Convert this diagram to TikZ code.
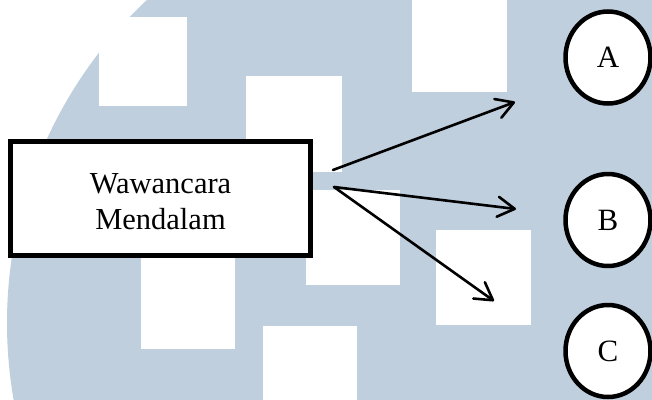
\documentclass[tikz,border=0pt]{standalone}
\usepackage{fontspec}
\setmainfont{Liberation Serif}
\usetikzlibrary{arrows.meta,shapes.geometric}
\definecolor{wmblue}{RGB}{191,207,221}
\tikzset{
  wmrect/.style={fill=white},
  mainbox/.style={draw=black, line width=5pt, fill=white, rectangle,
    minimum width=300pt, minimum height=114pt, inner sep=0pt},
  boxtext/.style={align=center, inner sep=0pt, font=\fontsize{30.5}{36}\selectfont},
  letter/.style={draw=black, line width=4.5pt, fill=white, ellipse,
    minimum width=85pt, minimum height=92pt, inner sep=0pt,
    font=\fontsize{31}{32}\selectfont},
  arr/.style={line width=2.6pt, line cap=round,
    -{Straight Barb[length=17pt,width=20pt,round]}}
}
\begin{document}
\begin{tikzpicture}[x=1pt,y=-1pt]
  \useasboundingbox (0,0) rectangle (652,399);
  \begin{scope}
    \clip (0,0) rectangle (652,399);
    \fill[white] (0,0) rectangle (652,399);
    \fill[wmblue] (450,323) circle (443pt);
    \fill[wmrect] (99,17) rectangle (187,106);
    \fill[wmrect] (246,76) rectangle (342,172);
    \fill[wmrect] (306,190) rectangle (400,285);
    \fill[wmrect] (141,254) rectangle (235,349);
    \fill[wmrect] (263,326) rectangle (357,420);
    \fill[wmrect] (412,-5) rectangle (507,92);
    \fill[wmrect] (436,230) rectangle (531,325);

    \node[mainbox] (wm) at (160.5,198.5) {};
    \node[boxtext] (wmtext) at ([yshift=-3.5pt]wm.center) {Wawancara\\Mendalam};
    \node[letter] (A) at (608,57.5) {A};
    \node[letter] (B) at (608,220) {B};
    \node[letter] (C) at (608,351) {C};

    \coordinate (s1) at (333,170);
    \coordinate (s2) at (334,187);
    \coordinate (t1) at (515,102);
    \coordinate (t2) at (516,209);
    \coordinate (t3) at (494,301);
    \draw[arr] (s1) -- (t1);
    \draw[arr] (s2) -- (t2);
    \draw[arr] (s2) -- (t3);
  \end{scope}
\end{tikzpicture}
\end{document}
